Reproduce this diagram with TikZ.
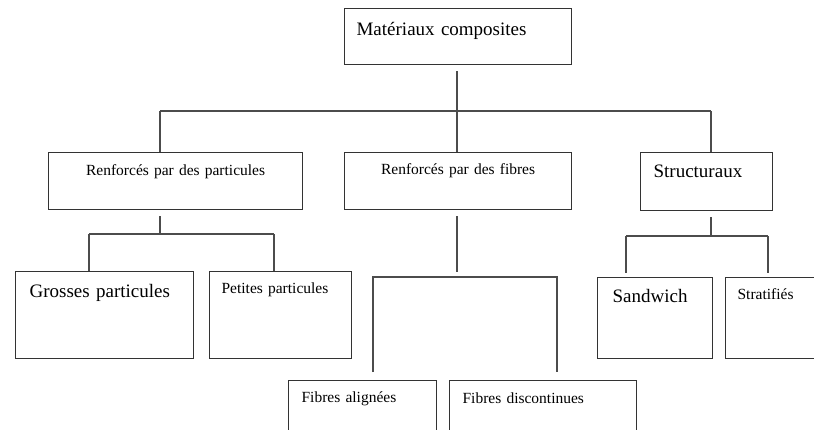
\documentclass[tikz,border=0pt]{standalone}
\usepackage{fontspec}
\setmainfont{Liberation Serif}
\newfontfamily\boxfont{Liberation Serif}
\usetikzlibrary{positioning}

\tikzset{
  box/.style={draw=black!80, line width=1.2pt, rectangle, anchor=north west, inner ysep=0pt},
  bigtext/.style={font=\boxfont\fontsize{19}{22}\selectfont},
  smalltext/.style={font=\boxfont\fontsize{15.5}{18}\selectfont},
  conn/.style={draw=black!70, line width=1.2pt}
}

\begin{document}
\begin{tikzpicture}[x=1pt, y=-1pt]
\useasboundingbox (0,0) rectangle (814,429);
\clip (0,0) rectangle (814,429);

\node[box, bigtext, align=left, inner xsep=12pt, text width=203pt, text height=27pt, text depth=29pt] (mc) at (344,8) {Matériaux composites};
\node[box, smalltext, align=center, inner xsep=0pt, text width=254pt, text height=23pt, text depth=34pt] (rp) at (48,152) {Renforcés par des particules};
\node[box, smalltext, align=center, inner xsep=0pt, text width=227pt, text height=22pt, text depth=35pt] (rf) at (344,152) {Renforcés par des fibres};
\node[box, bigtext, align=left, inner xsep=13pt, text width=106pt, text height=25pt, text depth=33pt] (st) at (640,152) {Structuraux};
\node[box, bigtext, align=left, inner xsep=14pt, text width=150pt, text height=26pt, text depth=61pt] (gp) at (15,271) {Grosses particules};
\node[box, smalltext, align=left, inner xsep=12pt, text width=118pt, text height=22pt, text depth=65pt] (pp) at (209,271) {Petites particules};
\node[box, smalltext, align=left, inner xsep=13pt, text width=122pt, text height=22pt, text depth=48pt] (fa) at (288,380) {Fibres alignées};
\node[box, smalltext, align=left, inner xsep=13pt, text width=161pt, text height=23pt, text depth=47pt] (fd) at (449,380) {Fibres discontinues};
\node[box, bigtext, align=left, inner xsep=15pt, text width=85pt, text height=25pt, text depth=56pt] (sw) at (597,277) {Sandwich};
\node[box, smalltext, align=left, inner xsep=12pt, text width=86pt, text height=22pt, text depth=59pt] (sf) at (725,277) {Stratifiés};

\coordinate (hub) at (457,111);
\coordinate (hl) at (160,111);
\coordinate (hr) at (711,111);
\coordinate (pm) at (160,234);
\coordinate (pl) at (89,234);
\coordinate (pr) at (274,234);
\coordinate (fm) at (457,272);
\coordinate (fl) at (373,277);
\coordinate (fr) at (557,277);
\coordinate (sm) at (711,236);
\coordinate (sl) at (626,236);
\coordinate (sr) at (768,236);

\draw[conn, shorten <=6pt] (hub |- mc.south) -- (hub);
\draw[conn] (hl) -- (hr);
\draw[conn] (hl) -- (hl |- rp.north);
\draw[conn] (hub) -- (hub |- rf.north);
\draw[conn] (hr) -- (hr |- st.north);

\draw[conn, shorten <=6pt] (rp.south -| pm) -- (pm);
\draw[conn] (pl) -- (pr);
\draw[conn] (pl) -- (pl |- gp.north);
\draw[conn] (pr) -- (pr |- pp.north);

\draw[conn, shorten <=6pt] (rf.south -| fm) -- (fm);
\draw[conn, shorten <=8pt, shorten >=8pt] (fl |- fa.north) -- (fl) -- (fr) -- (fr |- fd.north);

\draw[conn, shorten <=6pt] (st.south -| sm) -- (sm);
\draw[conn] (sl) -- (sr);
\draw[conn, shorten >=4pt] (sl) -- (sl |- sw.north);
\draw[conn, shorten >=4pt] (sr) -- (sr |- sf.north);
\end{tikzpicture}
\end{document}
